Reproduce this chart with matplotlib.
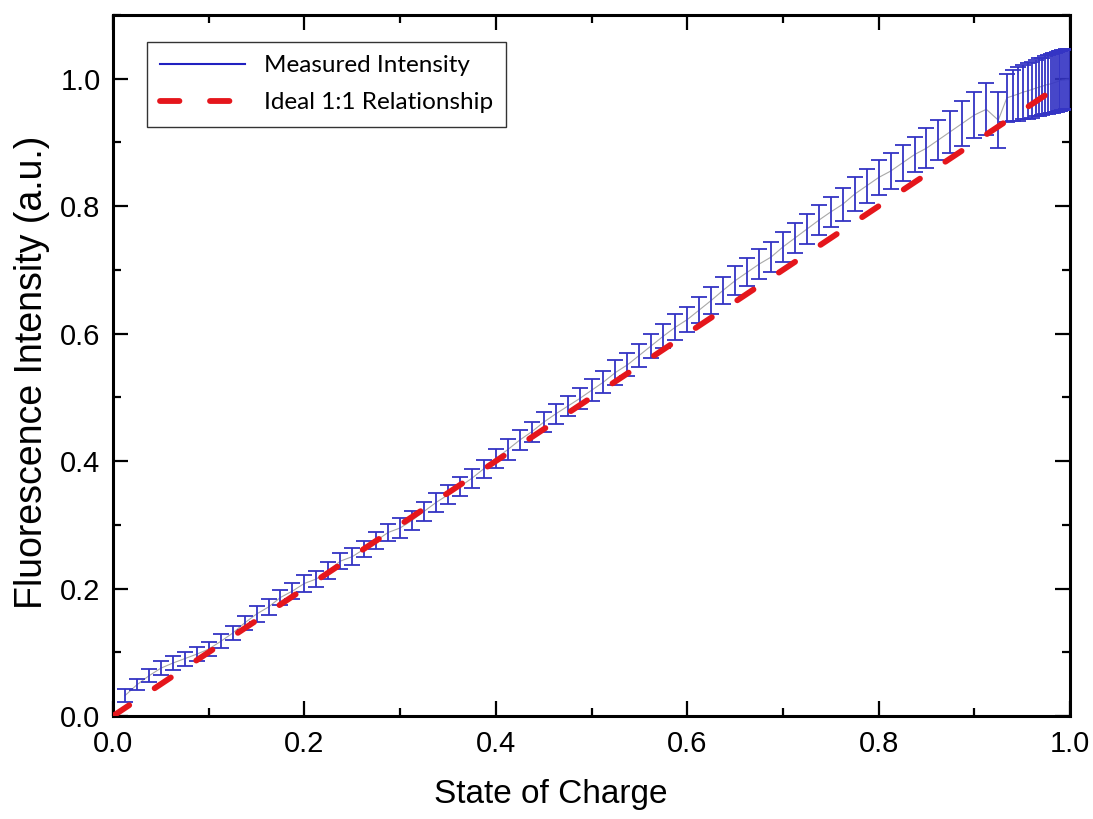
import matplotlib
matplotlib.use("Agg")
import matplotlib.pyplot as plt
from matplotlib.lines import Line2D
from matplotlib.ticker import MultipleLocator

plt.rcParams['lines.scale_dashes'] = False

# State of charge (x) for each measurement
soc = [0.0125, 0.025, 0.0375, 0.05, 0.0625, 0.075, 0.0875, 0.1, 0.1125, 0.125,
       0.1375, 0.15, 0.1625, 0.175, 0.1875, 0.2, 0.2125, 0.225, 0.2375, 0.25,
       0.2625, 0.275, 0.2875, 0.3, 0.3125, 0.325, 0.3375, 0.35, 0.3625, 0.375,
       0.3875, 0.4, 0.4125, 0.425, 0.4375, 0.45, 0.4625, 0.475, 0.4875, 0.5,
       0.5125, 0.525, 0.5375, 0.55, 0.5625, 0.575, 0.5875, 0.6, 0.6125, 0.625,
       0.6375, 0.65, 0.6625, 0.675, 0.6875, 0.7, 0.7125, 0.725, 0.7375, 0.75,
       0.7625, 0.775, 0.7875, 0.8, 0.8125, 0.825, 0.8375, 0.85, 0.8625, 0.875,
       0.8875, 0.9, 0.9125, 0.925,
       0.934, 0.940, 0.946, 0.951, 0.956, 0.960, 0.964, 0.968, 0.971, 0.974,
       0.977, 0.980, 0.982, 0.984, 0.986, 0.988, 0.990, 0.992, 0.994, 0.996,
       0.998, 1.000]

# Measured fluorescence intensity (normalised)
intensity = [0.032, 0.049, 0.063, 0.075, 0.083, 0.090, 0.097, 0.105, 0.117, 0.130,
             0.146, 0.160, 0.171, 0.186, 0.196, 0.208, 0.215, 0.228, 0.243, 0.250,
             0.262, 0.275, 0.288, 0.295, 0.307, 0.321, 0.335, 0.347, 0.360, 0.373,
             0.388, 0.404, 0.418, 0.433, 0.446, 0.461, 0.474, 0.486, 0.498, 0.511,
             0.524, 0.539, 0.551, 0.566, 0.581, 0.596, 0.610, 0.622, 0.637, 0.652,
             0.668, 0.683, 0.696, 0.709, 0.720, 0.736, 0.750, 0.764, 0.778, 0.791,
             0.803, 0.819, 0.832, 0.845, 0.855, 0.868, 0.881, 0.891, 0.904, 0.917,
             0.930, 0.943, 0.952, 0.935,
             0.970, 0.973, 0.976, 0.979, 0.981, 0.983, 0.985, 0.987, 0.988, 0.990,
             0.991, 0.992, 0.993, 0.994, 0.995, 0.996, 0.997, 0.998, 0.998, 0.999,
             0.999, 1.000]

# Error (half-width of error bars)
error = [0.010, 0.009, 0.010, 0.011, 0.011, 0.011, 0.011, 0.011, 0.011, 0.011,
         0.011, 0.012, 0.012, 0.012, 0.012, 0.013, 0.012, 0.013, 0.013, 0.013,
         0.013, 0.013, 0.014, 0.015, 0.015, 0.015, 0.015, 0.015, 0.015, 0.015,
         0.014, 0.015, 0.016, 0.016, 0.016, 0.016, 0.016, 0.016, 0.016, 0.017,
         0.017, 0.019, 0.018, 0.018, 0.019, 0.019, 0.020, 0.020, 0.020, 0.021,
         0.021, 0.023, 0.022, 0.0235, 0.0235, 0.0235, 0.024, 0.024, 0.024, 0.024,
         0.026, 0.027, 0.027, 0.028, 0.028, 0.028, 0.028, 0.031, 0.031, 0.033,
         0.035, 0.036, 0.041, 0.044,
         0.038, 0.040, 0.042, 0.043, 0.044, 0.044, 0.044, 0.045, 0.045, 0.046,
         0.046, 0.046, 0.047, 0.047, 0.047, 0.047, 0.047, 0.047, 0.047, 0.047,
         0.047, 0.047]

ideal_x = [0.0, 1.0]
ideal_y = [0.0, 1.0]

x_ticks = [0.0, 0.2, 0.4, 0.6, 0.8, 1.0]
y_ticks = [0.0, 0.2, 0.4, 0.6, 0.8, 1.0]

blue = '#3434c4'
red = '#e5161c'

fig = plt.figure(figsize=(10.93, 8.19), dpi=100)
ax = fig.add_axes([0.1034, 0.1258, 0.979 - 0.1034, 0.9817 - 0.1258])

ax.plot(soc, intensity, color='#a8a8a8', lw=0.8, zorder=2)
ax.errorbar(soc, intensity, yerr=error, fmt='none', ecolor=blue,
            elinewidth=1.3, capsize=6, capthick=1.3, zorder=3)
ax.plot(ideal_x, ideal_y, color=red, lw=4.2, dashes=(14, 22),
        dash_capstyle='round', solid_capstyle='round', zorder=4)

ax.set_xlim(0, 1.0)
ax.set_ylim(0, 1.1)
ax.set_xticks(x_ticks)
ax.set_yticks(y_ticks)
ax.set_xticklabels([f"{v:.1f}" for v in x_ticks])
ax.set_yticklabels([f"{v:.1f}" for v in y_ticks])
ax.xaxis.set_minor_locator(MultipleLocator(0.1))
ax.yaxis.set_minor_locator(MultipleLocator(0.1))

lab_font = 'Liberation Sans'
ax.tick_params(which='both', direction='in', top=True, right=True, width=1.6)
ax.tick_params(which='major', length=11)
ax.tick_params(which='minor', length=6)
ax.tick_params(axis='x', which='major', pad=10)
ax.tick_params(axis='y', which='major', pad=9)
for lbl in ax.get_xticklabels() + ax.get_yticklabels():
    lbl.set_fontfamily(lab_font)
    lbl.set_fontsize(21)
for s in ax.spines.values():
    s.set_linewidth(2.2)

ax.set_xlabel('State of Charge', fontsize=24, family=lab_font)
ax.xaxis.set_label_coords(0.457, -0.09)
ax.set_ylabel('Fluorescence Intensity (a.u.)', fontsize=27, family=lab_font)
ax.yaxis.set_label_coords(-0.066, 0.49)

handles = [Line2D([0], [0], color='#2020c0', lw=1.5),
           Line2D([0], [0], color=red, lw=4.2, dashes=(14, 22),
                  dash_capstyle='round')]
leg = ax.legend(handles, ['Measured Intensity', 'Ideal 1:1 Relationship'],
                loc='upper left', bbox_to_anchor=(0.0355, 0.9615), borderaxespad=0,
                prop={'family': 'Lato', 'size': 17.5}, frameon=True, fancybox=False,
                handlelength=3.5, handletextpad=0.75, labelspacing=0.65,
                borderpad=0.55)
leg.get_frame().set_edgecolor('black')
leg.get_frame().set_linewidth(1.0)

fig.savefig('out.png', dpi=100)
